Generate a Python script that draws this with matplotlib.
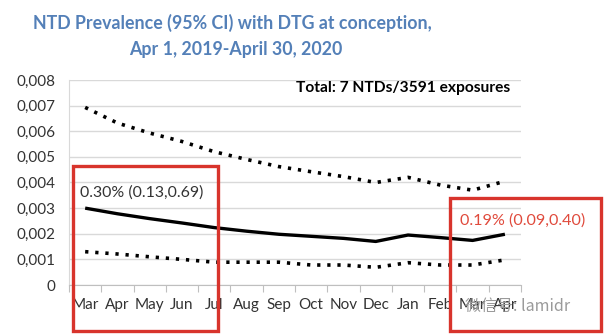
import matplotlib
matplotlib.use("Agg")
import matplotlib.pyplot as plt
from matplotlib.patches import Rectangle
from matplotlib.ticker import FixedLocator, NullFormatter

months = ["Mar", "Apr", "May", "Jun", "Jul", "Aug", "Sep",
          "Oct", "Nov", "Dec", "Jan", "Feb", "Mar", "Apr"]
prevalence = [0.00300, 0.00278, 0.00259, 0.00242, 0.00224, 0.00210, 0.00198,
              0.00190, 0.00182, 0.00170, 0.00195, 0.00185, 0.00174, 0.00198]
upper_ci = [0.00693, 0.00632, 0.00593, 0.00560, 0.00520, 0.00490, 0.00462,
            0.00442, 0.00423, 0.00400, 0.00420, 0.00390, 0.00370, 0.00405]
lower_ci = [0.00130, 0.00121, 0.00110, 0.00100, 0.00089, 0.00089, 0.00089,
            0.00078, 0.00078, 0.00069, 0.00087, 0.00078, 0.00078, 0.00098]
yticks = [0, 0.001, 0.002, 0.003, 0.004, 0.005, 0.006, 0.007, 0.008]
ylabels = ["0", "0,001", "0,002", "0,003", "0,004", "0,005", "0,006", "0,007", "0,008"]

plt.rcParams['font.family'] = ['Lato', 'DejaVu Sans']

fig = plt.figure(figsize=(6.08, 3.34), dpi=100)
ax = fig.add_axes([0.1135, 0.1467, 0.7435, 0.6138])

x = list(range(len(months)))
ax.plot(x, upper_ci, color='black', lw=2.6, linestyle=(0, (0.9, 1.9)))
ax.plot(x, prevalence, color='black', lw=2.4, solid_capstyle='butt')
ax.plot(x, lower_ci, color='black', lw=2.6, linestyle=(0, (0.9, 1.9)))

ax.set_xlim(-0.5, len(months) - 0.5)
ax.set_ylim(0, 0.008)
ax.set_yticks(yticks)
ax.set_yticklabels(ylabels)
ax.yaxis.grid(True, color='#d9d9d9', lw=1)
ax.set_axisbelow(True)

# category ticks between months, labels centred
ax.xaxis.set_major_locator(FixedLocator([i - 0.5 for i in range(len(months) + 1)]))
ax.xaxis.set_major_formatter(NullFormatter())
ax.xaxis.set_minor_locator(FixedLocator(x))
ax.set_xticklabels(months, minor=True)
ax.tick_params(axis='x', which='major', length=5, color='#bfbfbf', direction='out')
ax.tick_params(axis='x', which='minor', length=0, pad=9, labelsize=11, labelcolor='#333333')
ax.tick_params(axis='y', length=0, pad=10, labelsize=11, labelcolor='#333333')

for s in ['top', 'right']:
    ax.spines[s].set_visible(False)
ax.spines['left'].set_color('#d9d9d9')
ax.spines['bottom'].set_color('#bfbfbf')

ax.text(0.975, 0.0077, "Total: 7 NTDs/3591 exposures", ha='right', va='center',
        fontsize=11.2, fontweight='bold', color='black', transform=ax.get_yaxis_transform())
ax.text(-0.15, 0.0036, "0.30% (0.13,0.69)", ha='left', va='center', fontsize=11.4, color='#333333')
ax.text(11.6, 0.0025, "0.19% (0.09,0.40)", ha='left', va='center', fontsize=11.6, color='#e04a3c')

fig.text(0.382, 0.931, "NTD Prevalence (95% CI) with DTG at conception,", ha='center', va='center',
         fontsize=12.8, fontweight='bold', color='#5480b8')
fig.text(0.388, 0.851, "Apr 1, 2019-April 30, 2020", ha='center', va='center',
         fontsize=12.8, fontweight='bold', color='#5480b8')

# highlight boxes
for (x0, y0, x1, y1) in [(73, 166, 218, 331), (450, 198, 601, 331)]:
    fig.patches.append(Rectangle((x0 / 608, 1 - y1 / 334), (x1 - x0) / 608, (y1 - y0) / 334,
                                 transform=fig.transFigure, fill=False,
                                 edgecolor='#d8342c', lw=2.4))

fig.text(0.852, 0.083, "微信号: lamidr", ha='center', va='center', fontsize=11.5,
         color='#9a9a9a', family=['Noto Sans CJK SC', 'DejaVu Sans'])

fig.savefig("out.png", dpi=100)
